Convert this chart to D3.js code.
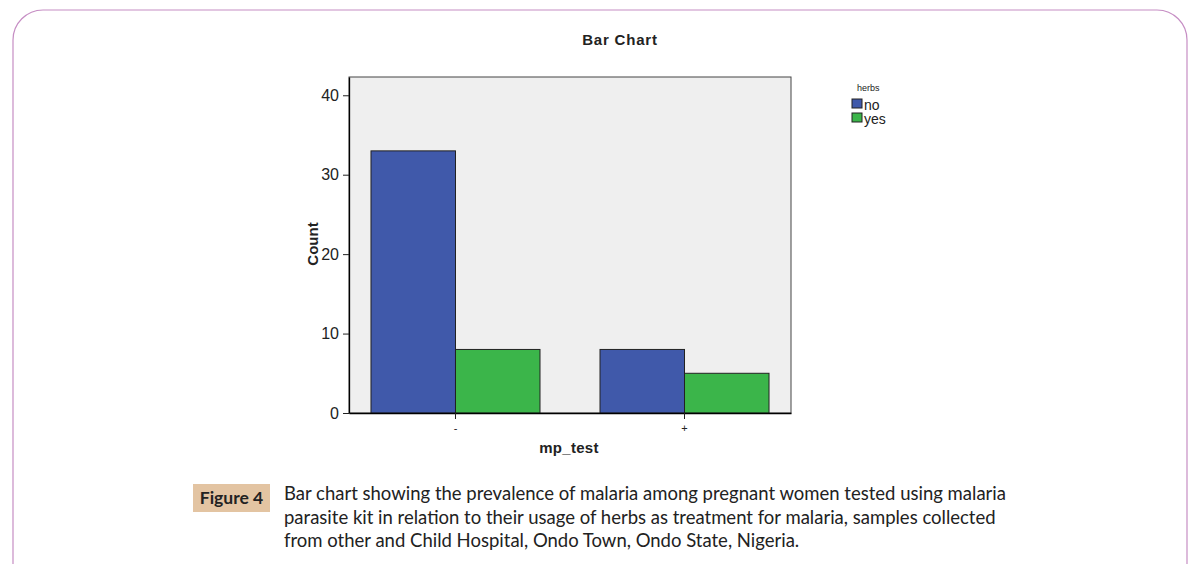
<!DOCTYPE html>
<html>
<head>
	<meta charset="utf-8">
	<script src="https://d3js.org/d3.v7.min.js"></script>
	<style>
		body { margin: 0; background: white; }
		svg text { font-family: "Liberation Sans", Arial, sans-serif; }
		.caption { font-family: Lato, "Open Sans", sans-serif !important; font-size: 18.5px; fill: #222; }
	</style>
</head>
<body>
	<svg width="1193" height="564"></svg>
	<script>
		// data
		const mpTest = ["-", "+"];
		const herbs = ["no", "yes"];
		const countNo = [33, 8];
		const countYes = [8, 5];
		const yTicks = [0, 10, 20, 30, 40];
		const captionLines = [
			"Bar chart showing the prevalence of malaria among pregnant women tested using malaria",
			"parasite kit in relation to their usage of herbs as treatment for malaria, samples collected",
			"from other and Child Hospital, Ondo Town, Ondo State, Nigeria."
		];

		const data = [];
		mpTest.forEach((t, i) => {
			data.push({ test: t, herb: "no", value: countNo[i] });
			data.push({ test: t, herb: "yes", value: countYes[i] });
		});

		const svg = d3.select("svg");

		// outer rounded frame
		svg.append("rect")
			.attr("x", 13).attr("y", 10)
			.attr("width", 1174).attr("height", 600)
			.attr("rx", 30).attr("ry", 30)
			.attr("fill", "none")
			.attr("stroke", "#c68ec4")
			.attr("stroke-width", 1.2);

		const margin = {top: 77, left: 349},
			width = 442,
			height = 336;

		const g = svg.append("g").attr("transform", `translate(${margin.left},${margin.top})`);

		const x0 = d3.scaleBand().domain(mpTest).range([0, width]).paddingInner(0.262).paddingOuter(0.096);
		const x1 = d3.scaleBand().domain(herbs).range([0, x0.bandwidth()]);
		const y = d3.scaleLinear().domain([0, 42.3]).range([height, 0]);
		const color = d3.scaleOrdinal().domain(herbs).range(["#4059aa", "#3bb54a"]);

		// plot background
		g.append("rect")
			.attr("width", width).attr("height", height)
			.attr("fill", "#efefef")
			.attr("stroke", "#444")
			.attr("stroke-width", 1);

		g.selectAll(".bar")
			.data(data)
			.enter().append("rect")
			.attr("class", "bar")
			.attr("x", d => x0(d.test) + x1(d.herb))
			.attr("y", d => y(d.value))
			.attr("width", x1.bandwidth())
			.attr("height", d => y(0) - y(d.value))
			.attr("fill", d => color(d.herb))
			.attr("stroke", "#222")
			.attr("stroke-width", 1);

		// y axis
		const yAxis = g.append("g")
			.call(d3.axisLeft(y).tickValues(yTicks).tickSize(6).tickSizeOuter(0));
		yAxis.select(".domain").attr("stroke", "#000").attr("stroke-width", 1.3);
		yAxis.selectAll("text").attr("font-size", 16).attr("fill", "#222").attr("dx", "-1");
		yAxis.selectAll("line").attr("stroke", "#222");

		// x axis
		const xAxis = g.append("g")
			.attr("transform", `translate(0,${height})`)
			.call(d3.axisBottom(x0).tickSize(6).tickSizeOuter(0));
		xAxis.select(".domain").attr("stroke", "#000").attr("stroke-width", 1.3);
		xAxis.selectAll("text").attr("font-size", 11).attr("fill", "#222").attr("dy", "0.9em");
		xAxis.selectAll("line").attr("stroke", "#222");

		// titles
		svg.append("text")
			.attr("x", 620).attr("y", 45)
			.attr("text-anchor", "middle")
			.attr("font-size", 15).attr("font-weight", "bold")
			.attr("letter-spacing", "0.8px")
			.attr("fill", "#222")
			.text("Bar Chart");

		svg.append("text")
			.attr("transform", "translate(318,244) rotate(-90)")
			.attr("text-anchor", "middle")
			.attr("font-size", 15).attr("font-weight", "bold")
			.attr("fill", "#222")
			.text("Count");

		svg.append("text")
			.attr("x", 569).attr("y", 453)
			.attr("text-anchor", "middle")
			.attr("font-size", 15).attr("font-weight", "bold")
			.attr("letter-spacing", "0.3px")
			.attr("fill", "#222")
			.text("mp_test");

		// legend
		const legend = svg.append("g").attr("transform", "translate(852,84)");
		legend.append("text")
			.attr("x", 5).attr("y", 7)
			.attr("font-size", 9).attr("fill", "#222")
			.text("herbs");
		herbs.forEach((h, i) => {
			legend.append("rect")
				.attr("x", 0).attr("y", 15 + i * 14)
				.attr("width", 10).attr("height", 9)
				.attr("fill", color(h))
				.attr("stroke", "#222");
			legend.append("text")
				.attr("x", 12).attr("y", 26 + i * 14)
				.attr("font-size", 14).attr("fill", "#222")
				.text(h);
		});

		// caption
		svg.append("rect")
			.attr("x", 193).attr("y", 484)
			.attr("width", 77).attr("height", 28)
			.attr("fill", "#e3c4a2");
		svg.append("text")
			.attr("class", "caption")
			.attr("x", 231.5).attr("y", 504)
			.attr("text-anchor", "middle")
			.attr("font-weight", "bold")
			.style("font-size", "17.5px")
			.text("Figure 4");
		captionLines.forEach((l, i) => {
			svg.append("text")
				.attr("class", "caption")
				.attr("x", 284).attr("y", 500 + i * 23.5)
				.text(l);
		});
	</script>
</body>
</html>
